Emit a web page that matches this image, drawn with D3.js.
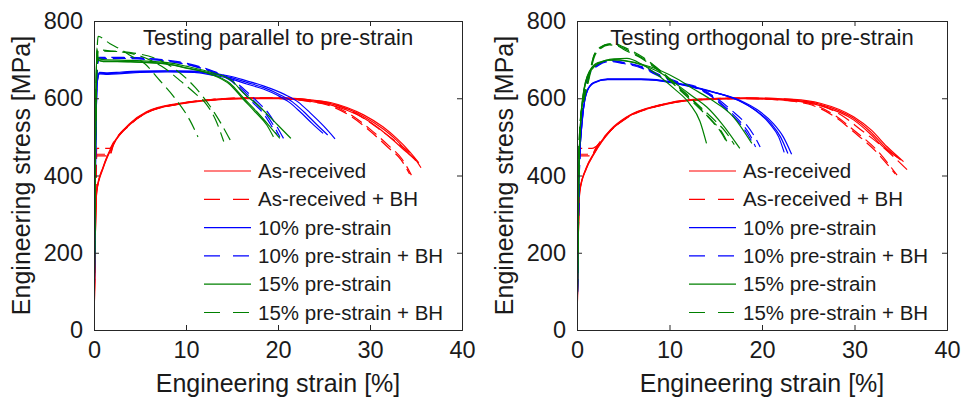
<!DOCTYPE html>
<html>
<head>
<meta charset="utf-8">
<script src="https://cdn.jsdelivr.net/npm/d3@7"></script>
<style>
  body { margin: 0; background: #fff; }
  text { font-family: "Liberation Sans", Arial, Helvetica, sans-serif; fill: #1a1a1a; }
</style>
</head>
<body>
<svg id="chart" width="968" height="399"></svg>
<script>
// ---- data: [engineering strain %, engineering stress MPa], 3 specimens per condition
const xTicks = [0, 10, 20, 30, 40];
const yTicks = [0, 200, 400, 600, 800];
const panelTitles = ['Testing parallel to pre-strain', 'Testing orthogonal to pre-strain'];
const legendLabels = ['As-received', 'As-received + BH', '10% pre-strain',
  '10% pre-strain + BH', '15% pre-strain', '15% pre-strain + BH'];

// parallel
const parAsReceived = [
  [[0,0],[0.15,250],[0.3,362],[1,423],[2.1,483],[3.9,535],[5.7,565],[9.3,587],[13,597],[16.6,601],[20.2,601],[23.8,595],[25.7,589],[27.5,576],[29.3,557],[31.4,526],[32.9,496],[34.3,462],[35.3,433]],
  [[0,0],[0.15,250],[0.3,360],[1,421],[2.1,481],[3.9,533],[5.7,563],[9.3,586],[13,596],[16.6,600],[20.2,600],[23.8,593],[25.7,586],[27.5,573],[29.3,553],[31.4,521],[32.9,491],[34.1,460],[35.0,438]],
  [[0,0],[0.15,250],[0.3,358],[1,419],[2.1,480],[3.9,532],[5.7,562],[9.3,585],[13,595],[16.6,599],[20.2,599],[23.8,591],[25.7,583],[27.5,569],[29.3,549],[31.2,518],[32.6,490],[33.9,462],[34.8,444]]
];
const parAsReceivedBH = [
  [[0,0],[0.15,300],[0.3,470],[1.7,470],[2.1,485],[3.9,533],[5.7,563],[9.3,586],[13,597],[16.6,600],[20.2,600],[23,595],[25.7,583],[28,556],[30,520],[32,478],[33.5,442],[34.5,401]],
  [[0,0],[0.15,300],[0.3,451],[1.7,451],[2.1,478],[3.9,531],[5.7,562],[9.3,585],[13,596],[16.6,600],[20.2,599],[23,593],[25.7,580],[28,552],[30,515],[32,472],[33.4,440],[34.3,404]],
  [[0,0],[0.15,300],[0.3,455],[1.7,455],[2.1,480],[3.9,532],[5.7,563],[9.3,586],[13,597],[16.6,601],[20.2,601],[23,597],[26,585],[28.5,560],[31,520],[33,484],[34.8,446],[35.8,410]]
];
const parPre10 = [
  [[0,0],[0.15,400],[0.35,640],[0.6,663],[1.5,662],[3,664],[5,667],[8,668],[10.9,667],[12.8,660],[14.8,651],[16.6,637],[18.4,624],[20,607],[21.2,590],[22.4,565],[23.7,535],[24.9,509]],
  [[0,0],[0.15,400],[0.35,642],[0.6,665],[1.5,664],[3,666],[5,669],[8,670],[10.9,669],[12.8,663],[14.8,654],[16.6,641],[18.4,628],[20.3,608],[21.6,590],[22.8,565],[24.2,532],[25.4,505]],
  [[0,0],[0.15,400],[0.35,645],[0.6,667],[1.5,666],[3,668],[5,670],[8,671],[10.9,670],[12.8,665],[14.8,657],[16.6,645],[18.4,632],[20.7,610],[22.2,590],[23.5,562],[25,527],[26.2,495]]
];
const parPre10BH = [
  [[0,0],[0.15,450],[0.4,690],[0.6,702],[3,703],[6,700],[9.3,691],[11,682],[13,667],[15,643],[16.3,613],[17.3,588],[18.4,561],[19.2,532],[19.9,505]],
  [[0,0],[0.15,450],[0.4,692],[0.6,704],[3,705],[6,702],[9.3,692],[11,683],[13,668],[15,645],[16.5,614],[17.6,588],[18.7,559],[19.5,530],[20.2,500]],
  [[0,0],[0.15,450],[0.4,694],[0.6,706],[3,706],[6,703],[9.3,694],[11,685],[13,670],[15,648],[16.7,615],[17.9,588],[19,560],[19.8,530],[20.6,496]]
];
const parPre15 = [
  [[0,0],[0.15,450],[0.3,725],[0.45,700],[1,695],[4,694],[8,688],[10,678],[12.6,663],[14.8,635],[16.2,598],[17.5,565],[18.8,530],[19.5,500]],
  [[0,0],[0.15,450],[0.3,718],[0.45,698],[1,696],[4,695],[8,689],[10,679],[12.6,664],[14.8,638],[16.2,602],[17.7,565],[19,530],[20.2,496]],
  [[0,0],[0.15,450],[0.3,730],[0.45,705],[1,700],[4,698],[8,692],[10,683],[13,665],[15,645],[16.2,615],[18,578],[20,530],[21.4,496]]
];
const parPre15BH = [
  [[0,0],[0.15,500],[0.45,760],[1.7,742],[3,725],[4,710],[5.5,690],[7,650],[8.8,600],[10.4,544],[11.3,500]],
  [[0,0],[0.15,500],[0.45,725],[2,722],[4,716],[6,700],[7.4,682],[9.5,643],[11.2,608],[12.2,585],[13.2,545],[14.1,488]],
  [[0,0],[0.15,500],[0.45,722],[2.5,721],[4,718],[7,700],[9,672],[11,628],[12.6,580],[13.8,535],[14.8,492]]
];

// orthogonal
const ortAsReceived = [
  [[0,0],[0.15,250],[0.3,362],[1,420],[1.8,457],[3.6,518],[5.4,552],[9,583],[12.6,597],[18,601],[23.4,597],[26.3,587],[29.9,552],[31.8,518],[33.5,475],[35.3,436]],
  [[0,0],[0.15,250],[0.3,360],[1,418],[1.8,455],[3.6,516],[5.4,551],[9,582],[12.6,596],[18,600],[23.4,595],[26.3,584],[29.9,548],[31.7,514],[33.3,474],[35.0,440]],
  [[0,0],[0.15,250],[0.3,358],[1,417],[1.8,454],[3.6,515],[5.4,550],[9,581],[12.6,595],[18,599],[23.4,593],[26.3,581],[29.9,544],[31.6,510],[33.1,474],[34.7,446]]
];
const ortAsReceivedBH = [
  [[0,0],[0.15,300],[0.3,470],[1.6,470],[2.1,476],[3.6,516],[5.4,550],[9,582],[12.6,596],[18,600],[22,597],[25,588],[28.1,552],[29.9,518],[32.4,466],[34.6,401]],
  [[0,0],[0.15,300],[0.3,451],[1.6,451],[2.1,473],[3.6,515],[5.4,549],[9,581],[12.6,595],[18,599],[22,595],[25,585],[28,550],[29.8,515],[32.2,465],[34.4,404]],
  [[0,0],[0.15,300],[0.3,455],[1.6,455],[2.1,474],[3.6,516],[5.4,550],[9,582],[12.6,596],[18,601],[22,599],[25.5,588],[28.6,556],[30.6,520],[33,475],[35.9,410]]
];
const ortPre10 = [
  [[0,0],[0.2,400],[0.6,549],[1.1,618],[1.8,639],[3.3,648],[6.9,648],[10.5,639],[12.2,630],[14.5,617],[17.6,595],[19.5,570],[21.2,535],[22.3,500],[23.2,455]],
  [[0,0],[0.2,400],[0.6,552],[1.1,620],[1.8,641],[3.3,650],[6.9,650],[10.5,641],[12.2,632],[14.5,618],[17.4,595],[19.2,570],[20.8,535],[21.8,500],[22.4,460]],
  [[0,0],[0.2,400],[0.6,550],[1.1,619],[1.8,640],[3.3,649],[6.9,649],[10.5,640],[12.2,631],[14.5,617],[17.5,594],[19.3,569],[21,534],[22,500],[22.8,457]]
];
const ortPre10BH = [
  [[0,0],[0.3,450],[0.7,600],[1.3,660],[2.3,685],[3.5,695],[5,690],[7,678],[9,656],[11,638],[13,625],[14.8,600],[16.2,569],[17.6,535],[18.5,505],[19.1,479]],
  [[0,0],[0.3,450],[0.7,602],[1.3,662],[2.3,687],[3.5,697],[5,692],[7,680],[9,658],[11,640],[13,627],[14.9,600],[16.4,569],[17.8,535],[18.7,505],[19.3,474]],
  [[0,0],[0.3,450],[0.7,604],[1.3,664],[2.3,689],[3.5,698],[5,693],[7,682],[9,660],[11,642],[13,629],[15.1,600],[16.7,569],[18.2,535],[19.1,505],[19.8,474]]
];
const ortPre15 = [
  [[0,0],[0.2,420],[0.5,570],[1.1,652],[2.2,688],[4,702],[5.4,703],[7,688],[9,655],[10.5,625],[12.2,585],[13.3,540],[14,483]],
  [[0,0],[0.2,420],[0.5,572],[1.1,655],[2.2,690],[4,699],[7,686],[9,666],[11,632],[12.6,603],[14,578],[15.8,530],[17.6,470]],
  [[0,0],[0.2,420],[0.5,575],[1.1,657],[2.2,692],[4,700],[7,688],[9,672],[11,648],[12.5,625],[14.4,598],[16.9,552],[18.9,483]]
];
const ortPre15BH = [
  [[0,0],[0.2,450],[0.4,549],[0.76,596],[1.3,650],[1.84,705],[2.5,728],[3.5,738],[4.3,736],[5,727],[7,703],[9,668],[11,624],[13.3,572],[14.8,537],[15.5,518],[16.4,479]],
  [[0,0],[0.2,450],[0.4,552],[0.76,600],[1.3,655],[1.84,710],[2.5,730],[3.5,740],[4.3,738],[5,730],[7,705],[9,670],[11,627],[13.3,575],[14.6,540],[15.4,518],[16.3,481]],
  [[0,0],[0.2,450],[0.4,555],[0.76,603],[1.3,658],[1.84,712],[2.5,732],[3.5,741],[4.3,740],[5,733],[7,708],[9,672],[11,630],[13.3,578],[15,540],[16,515],[17.0,480]]
];

// ---- styles per series (legend order)
const seriesStyle = [
  { color: '#ff0000', dash: null },
  { color: '#ff0000', dash: '13,6' },
  { color: '#0000ff', dash: null },
  { color: '#0000ff', dash: '13,6' },
  { color: '#008000', dash: null },
  { color: '#008000', dash: '13,6' }
];

const panels = [
  { left: 94, right: 462, title: panelTitles[0],
    series: [parAsReceived, parAsReceivedBH, parPre10, parPre10BH, parPre15, parPre15BH] },
  { left: 577, right: 947, title: panelTitles[1],
    series: [ortAsReceived, ortAsReceivedBH, ortPre10, ortPre10BH, ortPre15, ortPre15BH] }
];
const plotTop = 21, plotBottom = 330;

const svg = d3.select('#chart');
svg.append('rect').attr('width', 968).attr('height', 399).attr('fill', '#fff');

panels.forEach((p, pi) => {
  const width = p.right - p.left;
  const height = plotBottom - plotTop;
  const g = svg.append('g').attr('transform', `translate(${p.left},${plotTop})`);

  const xScale = d3.scaleLinear().domain([0, 40]).range([0, width]);
  const yScale = d3.scaleLinear().domain([0, 800]).range([height, 0]);

  g.append('clipPath').attr('id', 'clip' + pi)
    .append('rect').attr('width', width).attr('height', height);

  const line = d3.line()
    .x(d => xScale(d[0]))
    .y(d => yScale(d[1]))
    .curve(d3.curveMonotoneX);

  const plot = g.append('g').attr('clip-path', `url(#clip${pi})`);
  p.series.forEach((curves, si) => {
    const st = seriesStyle[si];
    plot.selectAll(null)
      .data(curves)
      .join('path')
      .attr('d', line)
      .attr('fill', 'none')
      .attr('stroke', st.color)
      .attr('stroke-width', 1.2)
      .attr('stroke-dasharray', st.dash);
  });

  // axes, ticks pointing inward
  const tickLen = 5;
  g.append('g').attr('transform', `translate(0,${height})`)
    .call(d3.axisBottom(xScale).tickValues(xTicks).tickSize(-tickLen).tickPadding(11));
  g.append('g')
    .call(d3.axisTop(xScale).tickValues(xTicks).tickSize(-tickLen).tickFormat(''));
  g.append('g')
    .call(d3.axisLeft(yScale).tickValues(yTicks).tickSize(-tickLen).tickPadding(11));
  g.append('g').attr('transform', `translate(${width},0)`)
    .call(d3.axisRight(yScale).tickValues(yTicks).tickSize(-tickLen).tickFormat(''));

  g.selectAll('.domain').attr('stroke', '#262626').attr('stroke-width', 1);
  g.selectAll('.tick line').attr('stroke', '#262626');
  g.selectAll('.tick text').attr('font-size', '23.5px').attr('fill', '#1a1a1a')
    .attr('font-family', '"Liberation Sans", Arial, sans-serif');

  // axis labels
  svg.append('text')
    .attr('x', p.left + width / 2).attr('y', 392)
    .attr('text-anchor', 'middle').attr('font-size', '25px')
    .text('Engineering strain [%]');
  const ylx = p.left - 64;
  svg.append('text')
    .attr('transform', `translate(${ylx},${plotTop + height / 2}) rotate(-90)`)
    .attr('text-anchor', 'middle').attr('font-size', '25px')
    .text('Engineering stress [MPa]');

  // title inside axes
  g.append('text')
    .attr('x', width / 2).attr('y', 24)
    .attr('text-anchor', 'middle').attr('font-size', '22px')
    .text(p.title);

  // legend
  const lx = p.left + (pi === 0 ? 110 : 112);
  const leg = svg.append('g');
  legendLabels.forEach((lab, i) => {
    const yy = 171 + i * 28.3;
    leg.append('line')
      .attr('x1', lx).attr('x2', lx + 47).attr('y1', yy).attr('y2', yy)
      .attr('stroke', seriesStyle[i].color).attr('stroke-width', 1.2)
      .attr('stroke-dasharray', seriesStyle[i].dash ? '16,13' : null);
    leg.append('text')
      .attr('x', lx + 54).attr('y', yy + 7)
      .attr('font-size', '20.5px')
      .text(lab);
  });
});
</script>
</body>
</html>
